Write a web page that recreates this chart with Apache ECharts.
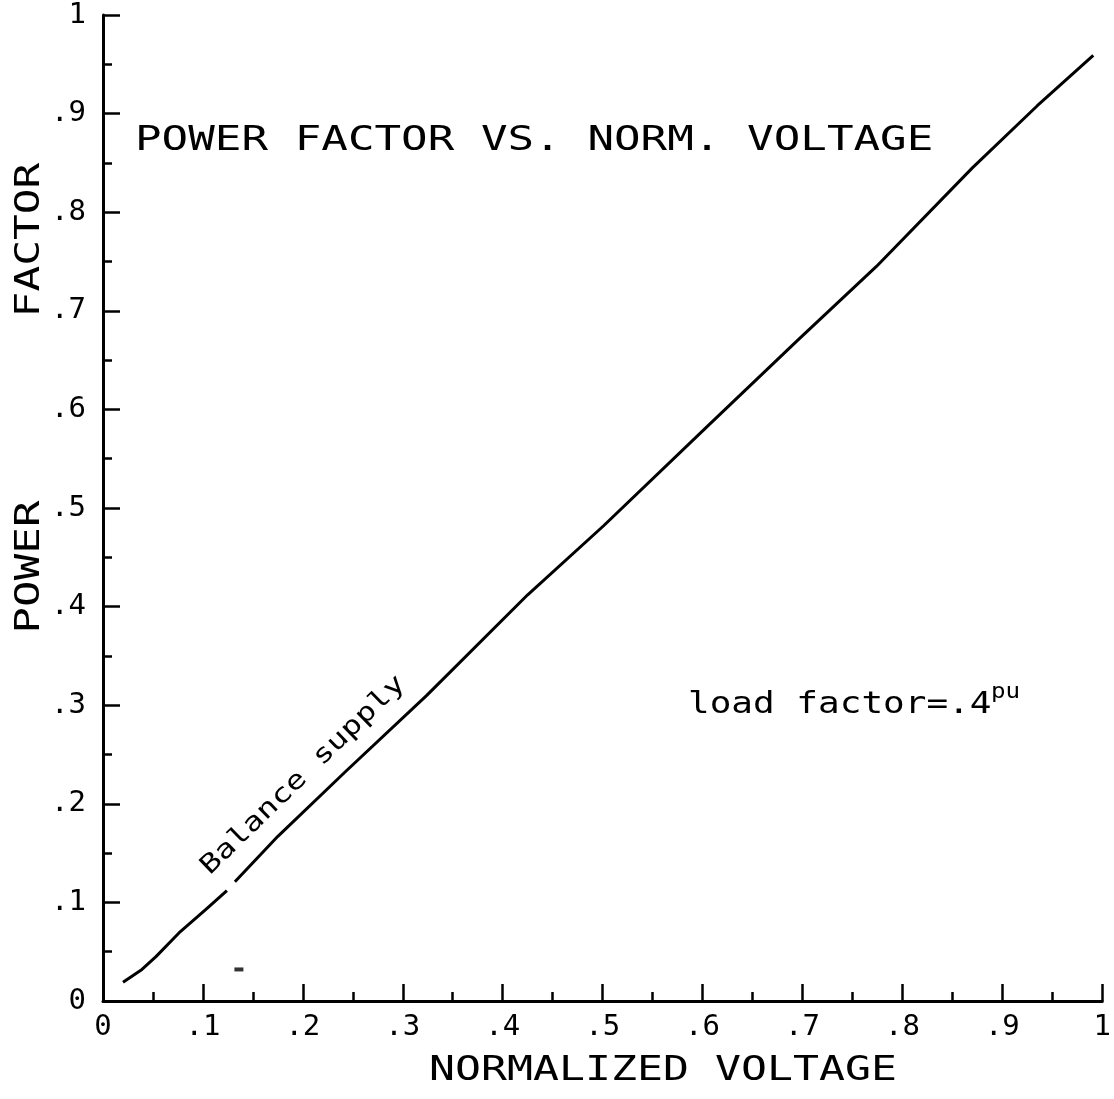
<!DOCTYPE html>
<html>
<head>
<meta charset="utf-8">
<title>Power factor vs. normalized voltage</title>
<script src="https://cdn.jsdelivr.net/npm/echarts@6/dist/echarts.min.js"></script>
<style>
  html, body { margin: 0; padding: 0; background: #fff; }
  #chart { width: 1114px; height: 1099px; }
</style>
</head>
<body>
<div id="chart"></div>
<script>
// Normalized voltage (x) and power factor (y) along the curve; null breaks the line
const voltage = [0.02, 0.039, 0.053, 0.076, 0.103, 0.124, 0.128, 0.132, 0.175, 0.242, 0.324, 0.425, 0.501, 0.604, 0.694, 0.774, 0.870, 0.935, 0.991];
const powerFactor = [0.019, 0.032, 0.045, 0.069, 0.093, 0.112, null, 0.121, 0.167, 0.232, 0.310, 0.412, 0.482, 0.582, 0.669, 0.745, 0.845, 0.908, 0.959];

// Lone plotter mark near the origin
const strayMark = [[0.136, 0.032]];

const titleText = 'POWER FACTOR VS. NORM. VOLTAGE';
const xName = 'NORMALIZED VOLTAGE';
const yNameLow = 'POWER';
const yNameHigh = 'FACTOR';
const curveLabel = 'Balance supply';
const noteText = 'load factor=.4';
const noteUnit = 'pu';

const FONT = '"DejaVu Sans Mono", "Liberation Mono", monospace';

const curve = voltage.map((v, i) => [v, powerFactor[i] === null ? '-' : powerFactor[i]]);

function tickText(v) {
  const r = Math.round(v * 10) / 10;
  if (r === 0) return '0';
  if (r === 1) return '1';
  return String(r).replace(/^0/, '');
}

function txt(x, y, text, size, opts) {
  opts = opts || {};
  return {
    type: 'text',
    x: x, y: y,
    rotation: opts.rotation || 0,
    scaleX: opts.scaleX || 1,
    scaleY: 1,
    silent: true,
    style: {
      text: text,
      font: size + 'px ' + FONT,
      fill: '#000',
      textAlign: opts.align || 'left',
      align: opts.align || 'left',
      textVerticalAlign: opts.valign || 'middle',
      verticalAlign: opts.valign || 'middle'
    }
  };
}

const chart = echarts.init(document.getElementById('chart'), null, { renderer: 'canvas' });

const axisCommon = {
  type: 'value',
  min: 0,
  max: 1,
  interval: 0.1,
  axisLine: { show: true, onZero: false, lineStyle: { color: '#000', width: 3 } },
  axisTick: { show: true, inside: true, length: 17, lineStyle: { color: '#000', width: 2.5 } },
  minorTick: { show: true, splitNumber: 2, length: 9, lineStyle: { color: '#000', width: 2.5 } },
  splitLine: { show: false },
  minorSplitLine: { show: false },
  axisLabel: {
    color: '#000',
    fontFamily: FONT,
    fontSize: 29,
    formatter: tickText
  }
};

chart.setOption({
  backgroundColor: '#fff',
  animation: false,
  grid: { left: 103, right: 7, top: 15, bottom: 98, containLabel: false },
  xAxis: Object.assign({}, axisCommon, {
    axisLabel: Object.assign({}, axisCommon.axisLabel, { margin: 12 })
  }),
  yAxis: Object.assign({}, axisCommon, {
    axisLabel: Object.assign({}, axisCommon.axisLabel, { margin: 17 })
  }),
  series: [
    {
      type: 'line',
      data: curve,
      showSymbol: false,
      symbol: 'none',
      connectNulls: false,
      lineStyle: { color: '#000', width: 3 },
      silent: true
    },
    {
      type: 'scatter',
      data: strayMark,
      symbol: 'rect',
      symbolSize: [9, 4],
      itemStyle: { color: '#000' },
      silent: true
    }
  ],
  graphic: [
    txt(135, 141, titleText, 34, { scaleX: 1.3 }),
    txt(663, 1071, xName, 34, { align: 'center', scaleX: 1.27 }),
    txt(30, 567, yNameLow, 34, { align: 'center', rotation: Math.PI / 2, scaleX: 1.3 }),
    txt(30, 240, yNameHigh, 34, { align: 'center', rotation: Math.PI / 2, scaleX: 1.26 }),
    txt(214, 880, curveLabel, 26, { valign: 'bottom', rotation: 0.77, scaleX: 1.25 }),
    txt(688, 705, noteText, 30, { scaleX: 1.2 }),
    txt(991, 692, noteUnit, 22, { scaleX: 1.1 })
  ]
});
</script>
</body>
</html>
